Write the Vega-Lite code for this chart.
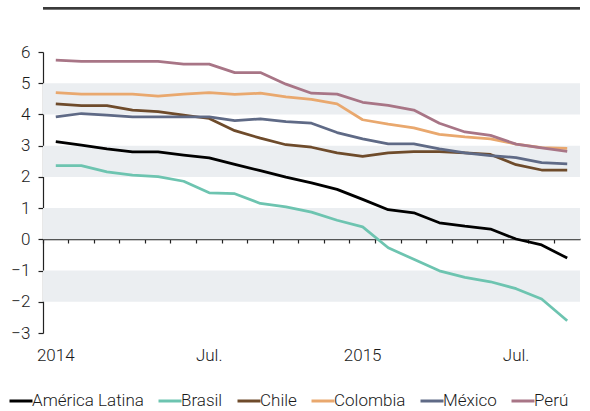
{
  "$schema": "https://vega.github.io/schema/vega-lite/v6.json",
  "width": 537,
  "height": 281,
  "autosize": "none",
  "padding": {"left": 43, "top": 52, "right": 10, "bottom": 78},
  "background": "white",
  "config": {
    "font": "Roboto",
    "view": {"stroke": null},
    "axis": {"labelFont": "Roboto", "labelFontWeight": 300},
    "legend": {"labelFont": "Roboto", "labelFontWeight": 300},
    "axisY": {
      "values": [-3, -2, -1, 0, 1, 2, 3, 4, 5, 6],
      "grid": false,
      "domain": true,
      "domainColor": "#222222",
      "domainWidth": 1.2,
      "ticks": true,
      "tickSize": 5,
      "tickColor": "#222222",
      "tickWidth": 1.2,
      "labelPadding": 8,
      "labelFontSize": 17,
      "labelColor": "#1a1a1a",
      "labelOverlap": false,
      "labelFlush": false,
      "title": null
    }
  },
  "datasets": {
    "bandas": [
      {"lo": 4, "hi": 5},
      {"lo": 2, "hi": 3},
      {"lo": 0, "hi": 1},
      {"lo": -2, "hi": -1}
    ],
    "series": [
      {"mes": "2014-01", "pais": "América Latina", "valor": 3.13},
      {"mes": "2014-02", "pais": "América Latina", "valor": 3.02},
      {"mes": "2014-03", "pais": "América Latina", "valor": 2.90},
      {"mes": "2014-04", "pais": "América Latina", "valor": 2.80},
      {"mes": "2014-05", "pais": "América Latina", "valor": 2.80},
      {"mes": "2014-06", "pais": "América Latina", "valor": 2.70},
      {"mes": "2014-07", "pais": "América Latina", "valor": 2.61},
      {"mes": "2014-08", "pais": "América Latina", "valor": 2.40},
      {"mes": "2014-09", "pais": "América Latina", "valor": 2.20},
      {"mes": "2014-10", "pais": "América Latina", "valor": 1.99},
      {"mes": "2014-11", "pais": "América Latina", "valor": 1.81},
      {"mes": "2014-12", "pais": "América Latina", "valor": 1.60},
      {"mes": "2015-01", "pais": "América Latina", "valor": 1.28},
      {"mes": "2015-02", "pais": "América Latina", "valor": 0.95},
      {"mes": "2015-03", "pais": "América Latina", "valor": 0.85},
      {"mes": "2015-04", "pais": "América Latina", "valor": 0.53},
      {"mes": "2015-05", "pais": "América Latina", "valor": 0.42},
      {"mes": "2015-06", "pais": "América Latina", "valor": 0.33},
      {"mes": "2015-07", "pais": "América Latina", "valor": 0.01},
      {"mes": "2015-08", "pais": "América Latina", "valor": -0.18},
      {"mes": "2015-09", "pais": "América Latina", "valor": -0.60},

      {"mes": "2014-01", "pais": "Brasil", "valor": 2.36},
      {"mes": "2014-02", "pais": "Brasil", "valor": 2.36},
      {"mes": "2014-03", "pais": "Brasil", "valor": 2.16},
      {"mes": "2014-04", "pais": "Brasil", "valor": 2.06},
      {"mes": "2014-05", "pais": "Brasil", "valor": 2.01},
      {"mes": "2014-06", "pais": "Brasil", "valor": 1.86},
      {"mes": "2014-07", "pais": "Brasil", "valor": 1.49},
      {"mes": "2014-08", "pais": "Brasil", "valor": 1.46},
      {"mes": "2014-09", "pais": "Brasil", "valor": 1.15},
      {"mes": "2014-10", "pais": "Brasil", "valor": 1.04},
      {"mes": "2014-11", "pais": "Brasil", "valor": 0.87},
      {"mes": "2014-12", "pais": "Brasil", "valor": 0.61},
      {"mes": "2015-01", "pais": "Brasil", "valor": 0.40},
      {"mes": "2015-02", "pais": "Brasil", "valor": -0.27},
      {"mes": "2015-03", "pais": "Brasil", "valor": -0.64},
      {"mes": "2015-04", "pais": "Brasil", "valor": -1.01},
      {"mes": "2015-05", "pais": "Brasil", "valor": -1.22},
      {"mes": "2015-06", "pais": "Brasil", "valor": -1.36},
      {"mes": "2015-07", "pais": "Brasil", "valor": -1.58},
      {"mes": "2015-08", "pais": "Brasil", "valor": -1.91},
      {"mes": "2015-09", "pais": "Brasil", "valor": -2.61},

      {"mes": "2014-01", "pais": "Chile", "valor": 4.34},
      {"mes": "2014-02", "pais": "Chile", "valor": 4.28},
      {"mes": "2014-03", "pais": "Chile", "valor": 4.28},
      {"mes": "2014-04", "pais": "Chile", "valor": 4.14},
      {"mes": "2014-05", "pais": "Chile", "valor": 4.09},
      {"mes": "2014-06", "pais": "Chile", "valor": 3.98},
      {"mes": "2014-07", "pais": "Chile", "valor": 3.87},
      {"mes": "2014-08", "pais": "Chile", "valor": 3.48},
      {"mes": "2014-09", "pais": "Chile", "valor": 3.24},
      {"mes": "2014-10", "pais": "Chile", "valor": 3.03},
      {"mes": "2014-11", "pais": "Chile", "valor": 2.95},
      {"mes": "2014-12", "pais": "Chile", "valor": 2.77},
      {"mes": "2015-01", "pais": "Chile", "valor": 2.66},
      {"mes": "2015-02", "pais": "Chile", "valor": 2.77},
      {"mes": "2015-03", "pais": "Chile", "valor": 2.81},
      {"mes": "2015-04", "pais": "Chile", "valor": 2.81},
      {"mes": "2015-05", "pais": "Chile", "valor": 2.77},
      {"mes": "2015-06", "pais": "Chile", "valor": 2.72},
      {"mes": "2015-07", "pais": "Chile", "valor": 2.39},
      {"mes": "2015-08", "pais": "Chile", "valor": 2.22},
      {"mes": "2015-09", "pais": "Chile", "valor": 2.22},

      {"mes": "2014-01", "pais": "Colombia", "valor": 4.70},
      {"mes": "2014-02", "pais": "Colombia", "valor": 4.65},
      {"mes": "2014-03", "pais": "Colombia", "valor": 4.65},
      {"mes": "2014-04", "pais": "Colombia", "valor": 4.65},
      {"mes": "2014-05", "pais": "Colombia", "valor": 4.59},
      {"mes": "2014-06", "pais": "Colombia", "valor": 4.65},
      {"mes": "2014-07", "pais": "Colombia", "valor": 4.70},
      {"mes": "2014-08", "pais": "Colombia", "valor": 4.64},
      {"mes": "2014-09", "pais": "Colombia", "valor": 4.68},
      {"mes": "2014-10", "pais": "Colombia", "valor": 4.56},
      {"mes": "2014-11", "pais": "Colombia", "valor": 4.48},
      {"mes": "2014-12", "pais": "Colombia", "valor": 4.34},
      {"mes": "2015-01", "pais": "Colombia", "valor": 3.83},
      {"mes": "2015-02", "pais": "Colombia", "valor": 3.69},
      {"mes": "2015-03", "pais": "Colombia", "valor": 3.57},
      {"mes": "2015-04", "pais": "Colombia", "valor": 3.36},
      {"mes": "2015-05", "pais": "Colombia", "valor": 3.28},
      {"mes": "2015-06", "pais": "Colombia", "valor": 3.22},
      {"mes": "2015-07", "pais": "Colombia", "valor": 3.05},
      {"mes": "2015-08", "pais": "Colombia", "valor": 2.94},
      {"mes": "2015-09", "pais": "Colombia", "valor": 2.91},

      {"mes": "2014-01", "pais": "México", "valor": 3.92},
      {"mes": "2014-02", "pais": "México", "valor": 4.03},
      {"mes": "2014-03", "pais": "México", "valor": 3.98},
      {"mes": "2014-04", "pais": "México", "valor": 3.92},
      {"mes": "2014-05", "pais": "México", "valor": 3.92},
      {"mes": "2014-06", "pais": "México", "valor": 3.92},
      {"mes": "2014-07", "pais": "México", "valor": 3.92},
      {"mes": "2014-08", "pais": "México", "valor": 3.80},
      {"mes": "2014-09", "pais": "México", "valor": 3.86},
      {"mes": "2014-10", "pais": "México", "valor": 3.77},
      {"mes": "2014-11", "pais": "México", "valor": 3.72},
      {"mes": "2014-12", "pais": "México", "valor": 3.42},
      {"mes": "2015-01", "pais": "México", "valor": 3.22},
      {"mes": "2015-02", "pais": "México", "valor": 3.06},
      {"mes": "2015-03", "pais": "México", "valor": 3.06},
      {"mes": "2015-04", "pais": "México", "valor": 2.90},
      {"mes": "2015-05", "pais": "México", "valor": 2.77},
      {"mes": "2015-06", "pais": "México", "valor": 2.68},
      {"mes": "2015-07", "pais": "México", "valor": 2.62},
      {"mes": "2015-08", "pais": "México", "valor": 2.46},
      {"mes": "2015-09", "pais": "México", "valor": 2.42},

      {"mes": "2014-01", "pais": "Perú", "valor": 5.74},
      {"mes": "2014-02", "pais": "Perú", "valor": 5.70},
      {"mes": "2014-03", "pais": "Perú", "valor": 5.70},
      {"mes": "2014-04", "pais": "Perú", "valor": 5.70},
      {"mes": "2014-05", "pais": "Perú", "valor": 5.70},
      {"mes": "2014-06", "pais": "Perú", "valor": 5.61},
      {"mes": "2014-07", "pais": "Perú", "valor": 5.61},
      {"mes": "2014-08", "pais": "Perú", "valor": 5.34},
      {"mes": "2014-09", "pais": "Perú", "valor": 5.34},
      {"mes": "2014-10", "pais": "Perú", "valor": 4.97},
      {"mes": "2014-11", "pais": "Perú", "valor": 4.68},
      {"mes": "2014-12", "pais": "Perú", "valor": 4.65},
      {"mes": "2015-01", "pais": "Perú", "valor": 4.39},
      {"mes": "2015-02", "pais": "Perú", "valor": 4.29},
      {"mes": "2015-03", "pais": "Perú", "valor": 4.14},
      {"mes": "2015-04", "pais": "Perú", "valor": 3.72},
      {"mes": "2015-05", "pais": "Perú", "valor": 3.44},
      {"mes": "2015-06", "pais": "Perú", "valor": 3.33},
      {"mes": "2015-07", "pais": "Perú", "valor": 3.05},
      {"mes": "2015-08", "pais": "Perú", "valor": 2.93},
      {"mes": "2015-09", "pais": "Perú", "valor": 2.82}
    ]
  },
  "layer": [
    {
      "data": {"name": "bandas"},
      "mark": {"type": "rect", "color": "#EBEEF1"},
      "encoding": {
        "y": {"field": "lo", "type": "quantitative", "scale": {"domain": [-3, 6], "nice": false, "zero": false}},
        "y2": {"field": "hi"}
      }
    },
    {
      "data": {"name": "bandas"},
      "mark": {"type": "rule", "color": "#3a3a3a", "strokeWidth": 2, "clip": false},
      "encoding": {
        "y": {"datum": 7.4, "type": "quantitative"}
      }
    },
    {
      "data": {"name": "series"},
      "mark": {"type": "line", "strokeWidth": 2.75, "strokeJoin": "round"},
      "encoding": {
        "x": {
          "field": "mes",
          "type": "ordinal",
          "scale": {"type": "band", "paddingInner": 0, "paddingOuter": 0},
          "axis": {
            "title": null,
            "orient": "bottom",
            "offset": -94,
            "bandPosition": 0,
            "domain": true,
            "domainColor": "#222222",
            "domainWidth": 1.5,
            "ticks": true,
            "tickSize": 4,
            "tickColor": "#222222",
            "tickWidth": 1.2,
            "labelAngle": 0,
            "labelAlign": "center",
            "labelOffset": 0,
            "labelPadding": 104,
            "labelFontSize": 17,
            "labelColor": "#1a1a1a",
            "labelOverlap": false,
            "labelFlush": false,
            "labelExpr": "slice(datum.value, 5) == '01' ? slice(datum.value, 0, 4) : (slice(datum.value, 5) == '07' ? 'Jul.' : '')"
          }
        },
        "y": {
          "field": "valor",
          "type": "quantitative",
          "scale": {"domain": [-3, 6], "nice": false, "zero": false}
        },
        "color": {
          "field": "pais",
          "type": "nominal",
          "scale": {
            "domain": ["América Latina", "Brasil", "Chile", "Colombia", "México", "Perú"],
            "range": ["#000000", "#6DC4B0", "#6E4B2B", "#E9A86E", "#5F6A86", "#A87586"]
          },
          "legend": {
            "title": null,
            "orient": "none",
            "direction": "horizontal",
            "legendX": -35,
            "legendY": 336,
            "symbolType": "stroke",
            "symbolSize": 529,
            "symbolStrokeWidth": 3,
            "labelOffset": -2,
            "labelFontSize": 17,
            "labelColor": "#1a1a1a",
            "columnPadding": 8,
            "labelLimit": 300
          }
        }
      }
    }
  ]
}
